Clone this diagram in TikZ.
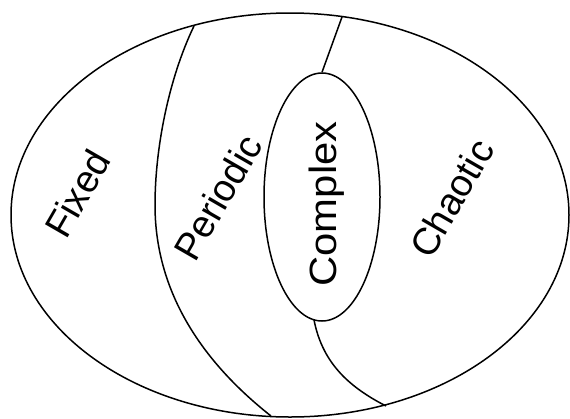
\documentclass[tikz,border=0pt]{standalone}
\usepackage{fontspec}
\setmainfont{Liberation Sans}
\usetikzlibrary{shapes.geometric}
\tikzset{
  region/.style={draw, ellipse, inner sep=0pt, line width=1.5pt},
  divider/.style={line width=1.5pt},
  lbl/.style={inner sep=0pt, font=\fontsize{38}{40}\selectfont}
}
\begin{document}
\begin{tikzpicture}[x=1pt, y=-1pt]
\useasboundingbox (0,0) rectangle (570,418);
\node[region, minimum width=558pt, minimum height=404pt] (outer) at (290,215) {};
\node[region, minimum width=116pt, minimum height=248pt] (inner) at (322,197) {};
% divider end points
\coordinate (lt) at (194,26);
\coordinate (lm) at (155,205);
\coordinate (lb) at (271,416);
\coordinate (rt) at (342,17);
\coordinate (rb) at (386,406);
\coordinate (ib) at (314,320);
\draw[divider] (lt) .. controls (168,80) and (155,150) .. (lm)
               .. controls (155,290) and (200,360) .. (lb);
\draw[divider] (rt) -- (inner.north);
\draw[divider] (ib) .. controls (322,360) and (345,385) .. (rb);
% labels
\node[lbl, rotate=60, anchor=base west] (fixed) at (66,241) {Fixed};
\node[lbl, rotate=60, anchor=base west] (periodic) at (195,264) {Periodic};
\node[lbl, rotate=60, anchor=base west] (chaotic) at (431,261) {Chaotic};
\node[lbl, rotate=90, anchor=base] (complex) at (336,204) {\scalebox{1.1}[1]{Complex}};
\end{tikzpicture}
\end{document}
